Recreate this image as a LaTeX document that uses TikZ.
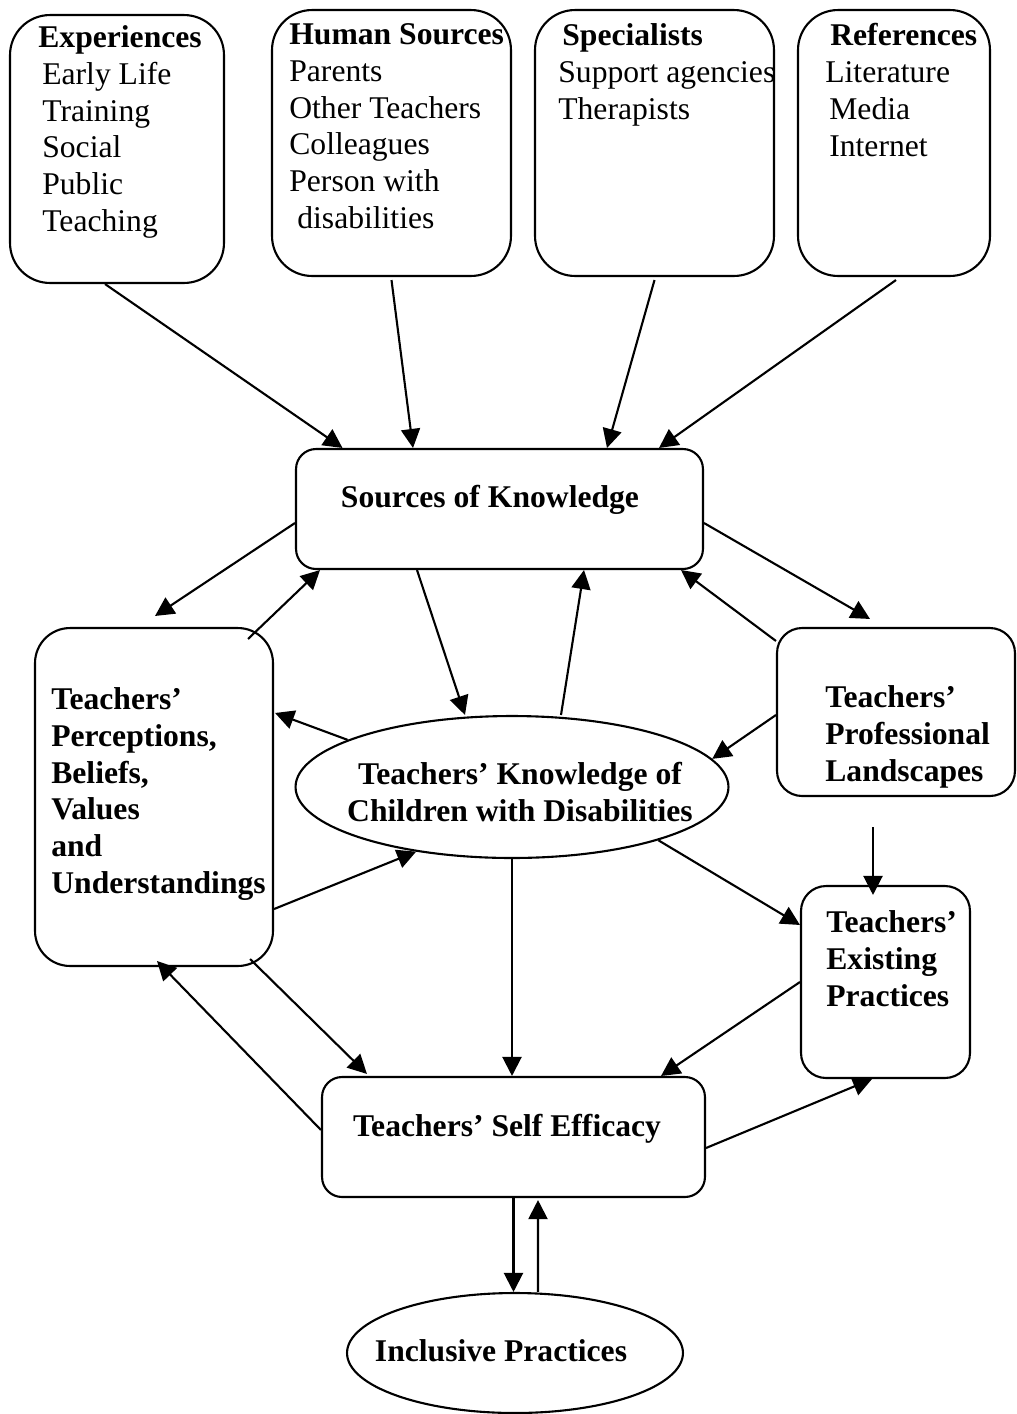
\documentclass[tikz,border=0pt]{standalone}
\usepackage{fontspec}
\setmainfont{Liberation Serif}
\usetikzlibrary{arrows.meta,shapes.geometric,calc}
\newcommand{\figfont}{\fontsize{18}{21}\selectfont}
\tikzset{
  srcbox/.style={draw, line width=1.2pt, rounded corners=0.8cm, inner sep=0pt},
  mainbox/.style={draw, line width=1.2pt, rounded corners=0.4cm, inner sep=0pt, font=\figfont\bfseries},
  oval/.style={draw, ellipse, line width=1.2pt, inner sep=0pt},
  listtext/.style={anchor=north west, inner sep=0pt, align=left, font=\figfont},
  boldtext/.style={anchor=west, inner sep=0pt, align=left, font=\figfont\bfseries},
  arr/.style={line width=1.2pt, -{Triangle[length=0.38cm,width=0.38cm]}},
}
\begin{document}
\begin{tikzpicture}[x=0.02cm, y=-0.02cm]
\useasboundingbox (0,0) rectangle (1017,1414);
% sources
\node[srcbox, minimum width=4.28cm, minimum height=5.36cm] (exp) at (117,149) {};
\node[srcbox, minimum width=4.78cm, minimum height=5.32cm] (hum) at (391.5,143) {};
\node[srcbox, minimum width=4.78cm, minimum height=5.32cm] (spe) at (654.5,143) {};
\node[srcbox, minimum width=3.84cm, minimum height=5.32cm] (ref) at (894,143) {};
\node[listtext] (exp-t) at (38,25) {\textbf{Experiences}\\\hspace*{0.08cm}Early Life\\\hspace*{0.08cm}Training\\\hspace*{0.08cm}Social\\\hspace*{0.08cm}Public\\\hspace*{0.08cm}Teaching};
\node[listtext] (hum-t) at (289,23) {\textbf{Human Sources}\\Parents\\Other Teachers\\Colleagues\\Person with\\\hspace*{0.16cm}disabilities};
\node[listtext] (spe-t) at (558,23) {\hspace*{0.08cm}\textbf{Specialists}\\Support agencies\\Therapists};
\node[listtext] (ref-t) at (825,23) {\hspace*{0.1cm}\textbf{References}\\Literature\\\hspace*{0.08cm}Media\\\hspace*{0.08cm}Internet};
% main nodes
\node[mainbox, minimum width=8.14cm, minimum height=2.4cm] (sok) at (499.5,509) {};
\node[boldtext, anchor=center] (sok-t) at (490,500) {Sources of Knowledge};
\node[mainbox, rounded corners=0.7cm, minimum width=4.76cm, minimum height=6.76cm] (perc) at (154,797) {};
\node[boldtext] (perc-t) at (51,794) {Teachers’\\Perceptions,\\Beliefs,\\Values\\and\\Understandings};
\node[mainbox, rounded corners=0.5cm, minimum width=4.76cm, minimum height=3.36cm] (land) at (896,712) {};
\node[boldtext] (land-t) at (825,737) {Teachers’\\Professional\\Landscapes};
\node[oval, minimum width=8.66cm, minimum height=2.84cm] (know) at (512,787) {};
\node[boldtext, anchor=center, align=center] (know-t) at (520,792) {Teachers’ Knowledge of\\Children with Disabilities};
\node[mainbox, rounded corners=0.5cm, minimum width=3.38cm, minimum height=3.84cm] (ex) at (885.5,982) {};
\node[boldtext] (ex-t) at (826,959) {Teachers’\\Existing\\Practices};
\node[mainbox, minimum width=7.66cm, minimum height=2.4cm] (se) at (513.5,1137) {};
\node[boldtext, anchor=center] (se-t) at (507,1129) {Teachers’ Self Efficacy};
\node[oval, minimum width=6.72cm, minimum height=2.4cm] (incl) at (515,1353) {};
\node[boldtext, anchor=center] (incl-t) at (501,1351) {Inclusive Practices};
\coordinate (land-below) at ($(land.south)+(-23,30)$);
% sources into knowledge
\draw[arr] ($(exp.south)+(-12,0)$) -- ($(sok.north)+(-157,0)$);
\draw[arr] ($(hum.south)+(0,3)$) -- ($(sok.north)+(-86.5,0)$);
\draw[arr] ($(spe.south)+(0,3)$) -- ($(sok.north)+(107.5,0)$);
\draw[arr] ($(ref.south)+(2,3)$) -- ($(sok.north)+(159.5,0)$);
% around sources of knowledge
\draw[arr] ($(sok.west)+(0,14)$) -- ($(perc.north)+(1,-11)$);
\draw[arr] ($(perc.north)+(94,12)$) -- ($(sok.south)+(-179.5,0)$);
\draw[arr] ($(sok.south)+(-82.5,0)$) -- ($(know.north)+(-47,0)$);
\draw[arr] ($(know.north)+(49,0)$) -- ($(sok.south)+(84.5,0)$);
\draw[arr] ($(land.north west)+(0,14)$) -- ($(sok.south east)+(-23,0)$);
\draw[arr] ($(sok.east)+(0,14)$) -- ($(land.north)+(-26,-8)$);
% around knowledge
\draw[arr] (know.164) -- ($(perc.north east)+(1,86)$);
\draw[arr] ($(land.west)+(0,3)$) -- (know.8);
\draw[arr] ($(perc.south east)+(0,-58)$) -- (know.-146);
\draw[arr] (know.-20) -- ($(ex.north west)+(0,40)$);
\draw[arr] (land-below) -- ($(ex.north)+(-12.5,10)$);
\draw[arr] (know.south) -- (know.south |- se.north);
% self efficacy
\draw[arr] ($(perc.south east)+(-24,-8)$) -- ($(se.north west)+(46,-2)$);
\draw[arr] ($(se.west)+(0,-7)$) -- ($(perc.south)+(3,-6)$);
\draw[arr] (ex.west) -- ($(se.north east)+(-45,0)$);
\draw[arr] ($(se.east)+(0,11)$) -- ($(ex.south)+(-13.5,0)$);
\draw[arr] (se.south) -- (se.south |- incl.north);
\draw[arr] ($(incl.north)+(23,0)$) -- ($(se.south)+(24.5,2)$);
\end{tikzpicture}
\end{document}
